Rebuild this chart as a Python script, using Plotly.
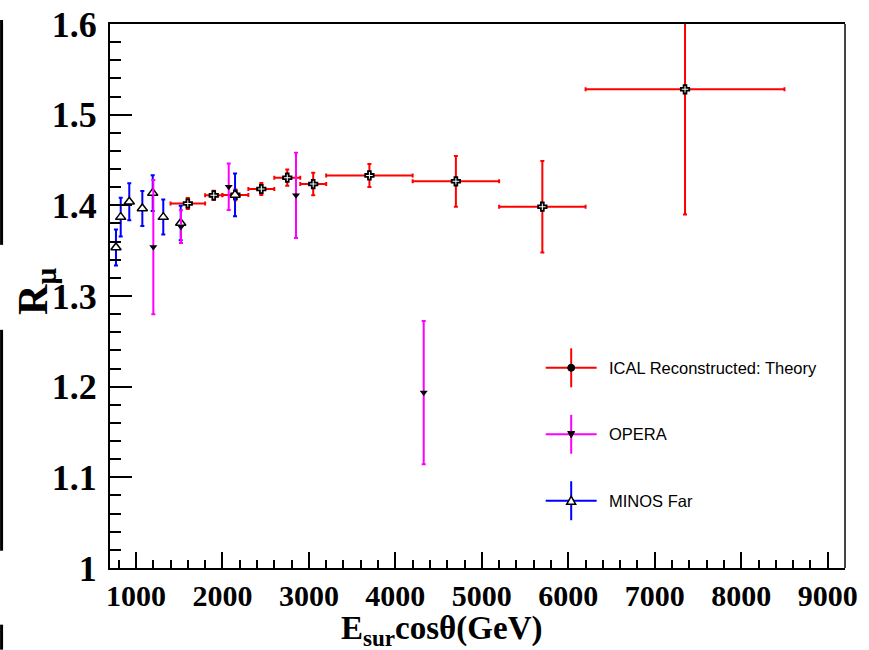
import plotly.graph_objects as go

# ICAL reconstructed ratio (theory), binned in E_sur*cos(theta)
ical_e = [1600, 1900, 2150, 2450, 2750, 3050, 3700, 4700, 5700, 7350]
ical_de = [200, 100, 150, 150, 150, 150, 500, 500, 500, 1150]
ical_r = [1.402, 1.411, 1.4115, 1.418, 1.4305, 1.4235, 1.433, 1.4265, 1.3985, 1.528]
ical_dr = [0.006, 0.005, 0.006, 0.0065, 0.009, 0.0125, 0.0127, 0.028, 0.0505, 0.138]

# OPERA measurements
opera_e = [1201, 1521, 2073, 2851, 4328]
opera_r = [1.354, 1.3765, 1.4205, 1.411, 1.1935]
opera_dr = [0.074, 0.018, 0.0257, 0.047, 0.079]

# MINOS far detector measurements
minos_e = [769, 824, 923, 1074, 1194, 1316, 1518, 2146]
minos_r = [1.3535, 1.387, 1.404, 1.3965, 1.4135, 1.387, 1.3805, 1.4115]
minos_dr = [0.0198, 0.0215, 0.0204, 0.0193, 0.0197, 0.0193, 0.019, 0.0235]

x_range = [700, 9200]
y_range = [1.0, 1.6]

legend_names = ["ICAL Reconstructed: Theory", "OPERA", "MINOS Far"]
legend_colors = ["#ff0000", "#ff00ff", "#0000ff"]

W, H = 869, 650
L, R, T, B = 110, 845.5, 24, 568.3


def px_x(px):
    return (px - L) / (R - L)


def px_y(py):
    return (B - py) / (B - T)


fig = go.Figure()

fig.add_trace(go.Scatter(
    x=ical_e, y=ical_r, mode="markers", name=legend_names[0],
    error_x=dict(type="data", array=ical_de, color="#ff0000", thickness=2, width=2),
    error_y=dict(type="data", array=ical_dr, color="#ff0000", thickness=2, width=2),
    marker=dict(symbol="cross", size=7, color="white", line=dict(color="black", width=1.8)),
    showlegend=False,
))
fig.add_trace(go.Scatter(
    x=minos_e, y=minos_r, mode="markers", name=legend_names[2],
    error_y=dict(type="data", array=minos_dr, color="#0000ff", thickness=2, width=2),
    marker=dict(symbol="triangle-up", size=9, color="white", line=dict(color="black", width=1.5)),
    showlegend=False,
))
fig.add_trace(go.Scatter(
    x=opera_e, y=opera_r, mode="markers", name=legend_names[1],
    error_y=dict(type="data", array=opera_dr, color="#ff00ff", thickness=2, width=2),
    marker=dict(symbol="triangle-down", size=7, color="black"),
    showlegend=False,
))

shapes = []
annotations = []

# legend block: cross of lines, marker, label
leg_rows = [368, 434.5, 501]
leg_x0, leg_x1, leg_xm = 546, 597, 571.5
for i, (name, col, yy) in enumerate(zip(legend_names, legend_colors, leg_rows)):
    shapes.append(dict(type="line", xref="paper", yref="paper",
                       x0=px_x(leg_x0), x1=px_x(leg_x1), y0=px_y(yy), y1=px_y(yy),
                       line=dict(color=col, width=2)))
    shapes.append(dict(type="line", xref="paper", yref="paper",
                       x0=px_x(leg_xm), x1=px_x(leg_xm), y0=px_y(yy - 19.5), y1=px_y(yy + 19.5),
                       line=dict(color=col, width=2)))
    annotations.append(dict(x=px_x(607), y=px_y(yy), xref="paper", yref="paper",
                            text=name, showarrow=False, xanchor="left", yanchor="middle",
                            font=dict(family="Liberation Sans, Arial", size=16.5, color="black")))

# legend markers
r = 3.5
shapes.append(dict(type="circle", xref="paper", yref="paper",
                   x0=px_x(leg_xm - r), x1=px_x(leg_xm + r),
                   y0=px_y(leg_rows[0] + r), y1=px_y(leg_rows[0] - r),
                   fillcolor="black", line=dict(color="black", width=1)))


def tri_path(cx, cy, s, down):
    if down:
        pts = [(cx - s, cy - s * 0.8), (cx + s, cy - s * 0.8), (cx, cy + s)]
    else:
        pts = [(cx - s, cy + s * 0.8), (cx + s, cy + s * 0.8), (cx, cy - s)]
    return "M " + " L ".join(f"{px_x(a)},{px_y(b)}" for a, b in pts) + " Z"


shapes.append(dict(type="path", xref="paper", yref="paper",
                   path=tri_path(leg_xm, leg_rows[1], 3.5, True),
                   fillcolor="black", line=dict(color="black", width=1)))
shapes.append(dict(type="path", xref="paper", yref="paper",
                   path=tri_path(leg_xm, leg_rows[2], 4.5, False),
                   fillcolor="white", line=dict(color="black", width=1.5)))

# right frame edge
shapes.append(dict(type="line", xref="paper", yref="paper", x0=1, x1=1, y0=0, y1=1,
                   line=dict(color="#444444", width=2)))

# bars along the left page edge
for y0, y1 in [(20, 245), (330, 551), (625, 650)]:
    shapes.append(dict(type="line", xref="paper", yref="paper",
                       x0=px_x(1.5), x1=px_x(1.5), y0=px_y(y0), y1=px_y(y1),
                       line=dict(color="black", width=3)))

# axis titles
annotations.append(dict(x=px_x(442), y=px_y(653), xref="paper", yref="paper",
                        text="E<sub>sur</sub>cosθ(GeV)", showarrow=False,
                        xanchor="center", yanchor="bottom",
                        font=dict(family="Liberation Serif", size=33, color="black", weight="bold")))
annotations.append(dict(x=px_x(36), y=px_y(292), xref="paper", yref="paper",
                        text="R<sub>μ</sub>", showarrow=False, textangle=-90,
                        xanchor="center", yanchor="middle",
                        font=dict(family="Liberation Serif", size=42, color="black", weight="bold")))

fig.update_layout(
    width=W, height=H,
    margin=dict(l=L, r=W - R, t=T, b=H - B, pad=0),
    paper_bgcolor="white", plot_bgcolor="white",
    shapes=shapes, annotations=annotations,
    xaxis=dict(
        range=x_range, showgrid=False, zeroline=False, automargin=False,
        showline=True, linecolor="black", linewidth=2, mirror=True,
        ticks="inside", ticklen=16, tickwidth=1.5, tickcolor="black",
        tick0=0, dtick=1000,
        minor=dict(ticks="inside", ticklen=8, tickwidth=1.5, tickcolor="black", dtick=200, showgrid=False),
        tickfont=dict(family="Liberation Serif", size=30, color="black", weight="bold"),
    ),
    yaxis=dict(
        range=y_range, showgrid=False, zeroline=False, automargin=False,
        showline=True, linecolor="black", linewidth=2, mirror=False,
        ticks="inside", ticklen=22, tickwidth=1.5, tickcolor="black",
        tick0=1.0, dtick=0.1, ticklabelstandoff=4,
        minor=dict(ticks="inside", ticklen=11, tickwidth=1.5, tickcolor="black", dtick=0.02, showgrid=False),
        tickfont=dict(family="Liberation Serif", size=36, color="black", weight="bold"),
    ),
)

fig.write_html("out.html")
